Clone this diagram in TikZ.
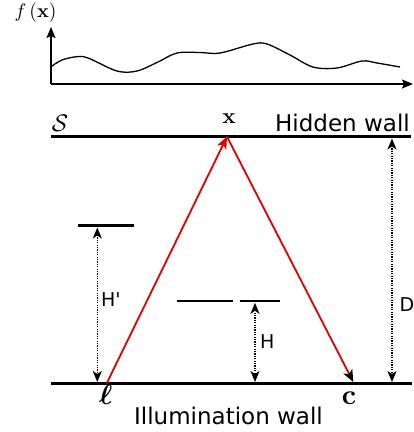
\documentclass[tikz,border=0pt]{standalone}
\usepackage{graphicx}
\usepackage{amsmath,amssymb,bm}
\usepackage[no-math]{fontspec}
\setmainfont{DejaVu Sans}[Ligatures=TeXOff]
\usetikzlibrary{arrows.meta}
\begin{document}
\begin{tikzpicture}[x=1pt,y=-1pt,
  wall/.style={line width=2.5pt},
  bar/.style={line width=2.8pt},
  ray/.style={red!90!black,line width=1.8pt},
  tipr/.style={-{Stealth[length=12pt,width=10pt,inset=3pt]}},
  dim/.style={line width=1.5pt,dash pattern=on 1.2pt off 1.2pt,{Stealth[length=11pt,width=9pt,inset=3pt]}-{Stealth[length=11pt,width=9pt,inset=3pt]}},
  axis/.style={line width=1.4pt,-{Stealth[length=11pt,width=9pt,inset=2pt]}},
  lbl/.style={inner sep=0pt,font=\fontsize{19}{22}\selectfont},
  big/.style={inner sep=0pt,font=\fontsize{23}{26}\selectfont},
  mth/.style={inner sep=0pt,font=\fontsize{10}{12}\selectfont}]
\useasboundingbox (0,0) rectangle (414,432);
% plot
\coordinate (o) at (51,84);
\coordinate (ytop) at (51,27);
\coordinate (xend) at (413,84);
\draw[axis] (o) -- (ytop);
\draw[axis] (o) -- (xend);
\draw[line width=1.3pt] plot[smooth,tension=0.55] coordinates {(51,66.7) (62,60) (76.7,56.7) (88,58) (117,71) (137,71) (158,62) (177,53) (200,52.5) (220,53) (253,44) (267,44) (290,55) (313,67) (337,68) (362,61) (377,63) (400,67)};
\node[mth] (fx) at (35.5,13) {\scalebox{1.95}{$f\,(\mathbf{x})$}};
% walls
\coordinate (hw0) at (51,136.7);
\coordinate (hw1) at (411,136.7);
\coordinate (iw0) at (51,383.3);
\coordinate (iw1) at (411.5,383.3);
\draw[wall] (hw0) -- (hw1);
\draw[wall] (iw0) -- (iw1);
\node[mth] (S) at (60,123) {\scalebox{2.4}{$\mathcal{S}$}};
\node[mth] (xl) at (229,119) {\scalebox{2.2}{$\mathbf{x}$}};
\node[big,anchor=base east] (hid) at (410,131) {Hidden wall};
\node[big,anchor=base] (ill) at (228.5,424) {Illumination wall};
% points
\coordinate (X) at (227,136.7);
\coordinate (L) at (106.7,383.3);
\coordinate (C) at (353.3,382);
\node[mth] (ell) at (105.8,395) {\scalebox{2.8}{$\bm{\ell}$}};
\node[mth] (c) at (349,398) {\scalebox{2.8}{$\mathbf{c}$}};
\draw[ray,tipr] (L) -- (X);
\draw[ray,-{Stealth[black,length=12pt,width=10pt,inset=3pt]}] (X) -- (C);
% bars
\coordinate (b1a) at (77.7,225.7);
\coordinate (b1b) at (134,225.7);
\coordinate (b2a) at (176.7,301);
\coordinate (b2b) at (233.3,301);
\coordinate (b3a) at (240,301);
\coordinate (b3b) at (280,301);
\draw[bar] (b1a) -- (b1b);
\draw[bar] (b2a) -- (b2b);
\draw[bar] (b3a) -- (b3b);
% dims
\coordinate (hp0) at (97.3,227.5);
\coordinate (hp1) at (97.3,382);
\coordinate (h0) at (255,302.8);
\coordinate (h1) at (255,382);
\coordinate (d0) at (392,138.5);
\coordinate (d1) at (392,382);
\draw[dim] (hp0) -- (hp1);
\draw[dim] (h0) -- (h1);
\draw[dim] (d0) -- (d1);
\node[lbl,anchor=base west] (Hp) at (101,306) {H'};
\node[lbl,anchor=base west] (H) at (260,348.3) {H};
\node[lbl,anchor=base west] (D) at (399.3,311.7) {D};
\end{tikzpicture}
\end{document}
